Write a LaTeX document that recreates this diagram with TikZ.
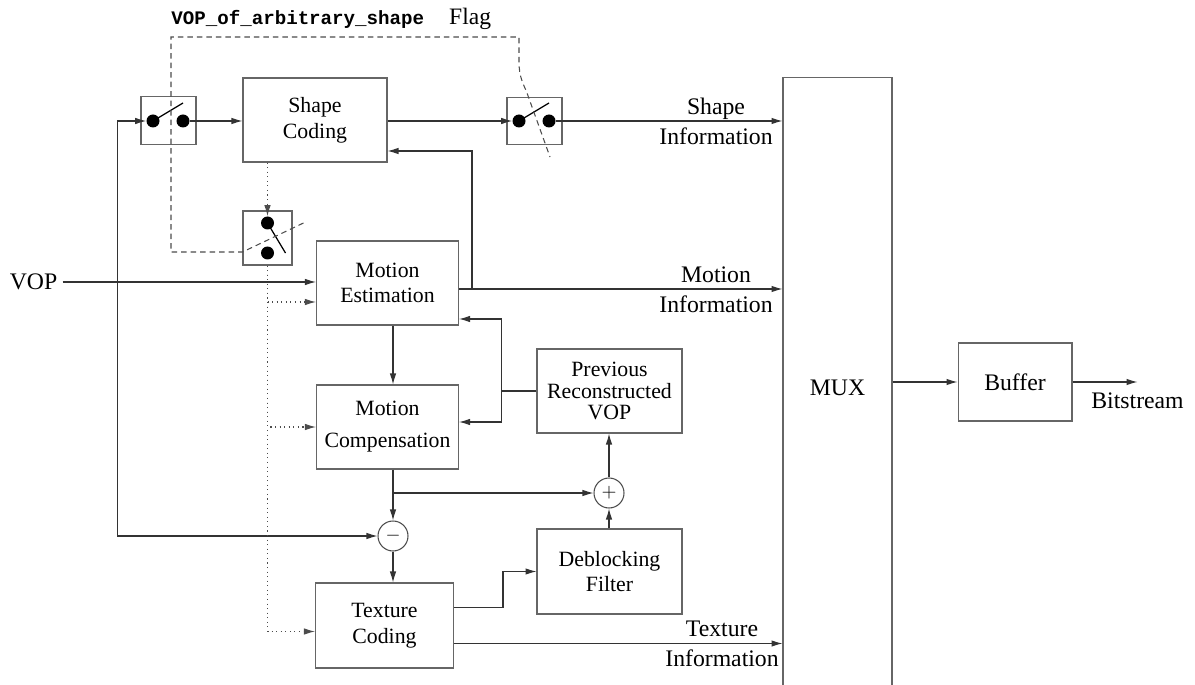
\documentclass[tikz,border=0pt]{standalone}
\usepackage{fontspec}
\setmainfont{Liberation Serif}
\setmonofont{Liberation Mono}
\usepackage{tikz}
\usetikzlibrary{positioning}
\usetikzlibrary{calc}
\usetikzlibrary{arrows.meta}
\tikzstyle{block}=[rectangle, draw=black!60, line width=0.6pt,
  minimum width=2.84cm, minimum height=1.68cm, inner sep=0pt,
  align=center, font=\rmfamily\fontsize{12.4}{14.6}\selectfont]
\tikzstyle{bigblock}=[block, font=\rmfamily\fontsize{13.5}{17}\selectfont]
\tikzstyle{switchbox}=[rectangle, draw=black!60, line width=0.6pt,
  inner sep=0pt, minimum width=1.1cm, minimum height=0.95cm]
\tikzstyle{contact}=[circle, fill=black, inner sep=0pt, minimum size=0.26cm]
\tikzstyle{lever}=[line width=0.7pt]
\tikzstyle{adder}=[circle, draw=black!70, line width=0.6pt, inner sep=0pt,
  minimum size=0.6cm, font=\fontsize{11}{11}\selectfont]
\tikzstyle{info}=[align=center, inner sep=0pt, font=\rmfamily\fontsize{13.5}{17}\selectfont]
\tikzstyle{wire}=[line width=0.6pt, draw=black!80]
\tikzstyle{arrsig}=[wire, -{Latex[length=2.2mm,width=1.3mm]}]
\tikzstyle{arrctl}=[arrsig, dotted, draw=black!70]
\tikzstyle{flagline}=[line width=0.6pt, draw=black!70, dash pattern=on 1.1mm off 0.8mm]

\begin{document}
\begin{tikzpicture}[x=0.02cm, y=-0.02cm]

\useasboundingbox (0,0) rectangle (1195,685);
\clip (0,0) rectangle (1195,685);

% coding blocks
\node[block, minimum width=2.88cm] (shape) at (315,120) {Shape\\Coding};
\node[block] (motest) at (387.5,283) {Motion\\Estimation};
\node[block, font=\rmfamily\fontsize{12.4}{18.2}\selectfont] (motcomp) at (387.5,427)
  {Motion\\Compensation};
\node[block, minimum width=2.9cm, font=\rmfamily\fontsize{12.4}{12}\selectfont]
  (prevrec) at (609.5,391) {Previous\\Reconstructed\\VOP};
\node[block, minimum width=2.9cm, minimum height=1.7cm] (deblock) at (609.5,571.5)
  {Deblocking\\Filter};
\node[block, minimum width=2.76cm, minimum height=1.7cm] (texture) at (384.5,625.5)
  {Texture\\Coding};
\node[bigblock, minimum width=2.18cm, minimum height=12.44cm] (mux) at (837.5,388) {MUX};
\node[bigblock, minimum width=2.28cm, minimum height=1.56cm] (buffer) at (1015,382) {Buffer};

\node[adder] (plus) at (609,493) {$+$};
\node[adder] (minus) at (393,536) {$-$};

% switches
\node[switchbox] (sw1) at (168.5,120.5) {};
\node[contact] (sw1a) at (153,121) {};
\node[contact] (sw1b) at (183,121) {};
\draw[lever] (sw1a.center) -- ++(30,-18);

\node[switchbox] (sw2) at (534.5,121) {};
\node[contact] (sw2a) at (519,121) {};
\node[contact] (sw2b) at (549,121) {};
\draw[lever] (sw2a.center) -- ++(30,-18);

\node[switchbox, minimum width=0.98cm, minimum height=1.08cm] (sw3) at (267.5,238) {};
\node[contact] (sw3a) at (267.5,223) {};
\node[contact] (sw3b) at (267.5,253) {};
\draw[lever] (sw3a.center) -- ++(18,30);

% labels
\node[info] (vop) at (33.5,282) {VOP};
\node[info] (shapeinfo) at (716,121) {Shape\\Information};
\node[info] (motinfo) at (716,290) {Motion\\Information};
\node[info] (texinfo) at (722,644) {Texture\\Information};
\node[anchor=base west, inner sep=0pt] (flagtitle) at (171,24.5)
  {{\fontsize{10.9}{12}\selectfont\ttfamily\bfseries VOP\_of\_arbitrary\_shape}%
   \hspace{0.5cm}{\rmfamily\fontsize{13.4}{15}\selectfont Flag}};

% shape flag
\draw[flagline] ($(sw3.center)+(36,-15)$) -- ($(sw3.west)+(0,14)$)
  -- (171,252) -- (171,37) -- (519,37) -- (519,62)
  .. controls (519,78) and (524,85) .. (527,93) -- (550,157);

% input
\path (vop.east) ++(5,0) coordinate (vopout) ++(55,0) coordinate (vopsplit);
\draw[arrsig] (vopout) -- (vopout -| motest.west);
\draw[arrsig] (vopsplit) |- (sw1a);
\draw[arrsig] (vopsplit) |- (minus);

% shape path
\draw[arrsig] (sw1b) -- (sw1b -| shape.west);
\draw[arrsig] (sw2a -| shape.east) -- (sw2a);
\draw[arrsig] (sw2b) -- (sw2b -| mux.west);

% shape control (dotted)
\draw[arrctl] (shape.south -| sw3a) -- (sw3a);
\draw[arrctl] (sw3.south) |- ($(motest.west)+(0,19)$);
\draw[arrctl] (sw3.south) |- (motcomp.west);
\draw[arrctl] (sw3.south) |- ($(texture.west)+(0,6)$);

% motion path
\draw[arrsig] (motest.south -| minus) -- (motcomp.north -| minus);
\path (motest.east) ++(0,6) coordinate (mvout) ++(13,0) coordinate (mvsplit);
\draw[arrsig] (mvout) -- (mvout -| mux.west);
\draw[arrsig] (mvsplit) |- ($(shape.east)+(0,31)$);
\path (prevrec.west) ++(-35,0) coordinate (prsplit);
\draw[wire] (prevrec.west) -- (prsplit);
\draw[arrsig] (prsplit) |- ($(motest.east)+(0,36)$);
\draw[arrsig] (prsplit) |- ($(motcomp.east)+(0,-5)$);

% texture path and reconstruction loop
\draw[arrsig] (motcomp.south -| minus) -- (minus);
\draw[arrsig] (plus -| minus) -- (plus);
\draw[arrsig] (minus) -- (texture.north -| minus);
\draw[arrsig] ($(texture.east)+(0,-18)$) -- ++(49,0) |- (deblock.west);
\path (texture.east) ++(0,18) coordinate (texout);
\draw[arrsig] (texout) -- (texout -| mux.west);
\draw[arrsig] (deblock.north -| plus) -- (plus);
\draw[arrsig] (plus) -- (prevrec.south -| plus);

% output
\draw[arrsig] (mux.east |- buffer.west) -- (buffer.west);
\path (buffer.east) ++(65,0) coordinate (bitout);
\draw[arrsig] (buffer.east) -- (bitout);
\node[info, below=0.2cm of bitout] (bits) {Bitstream};

\end{tikzpicture}
\end{document}
